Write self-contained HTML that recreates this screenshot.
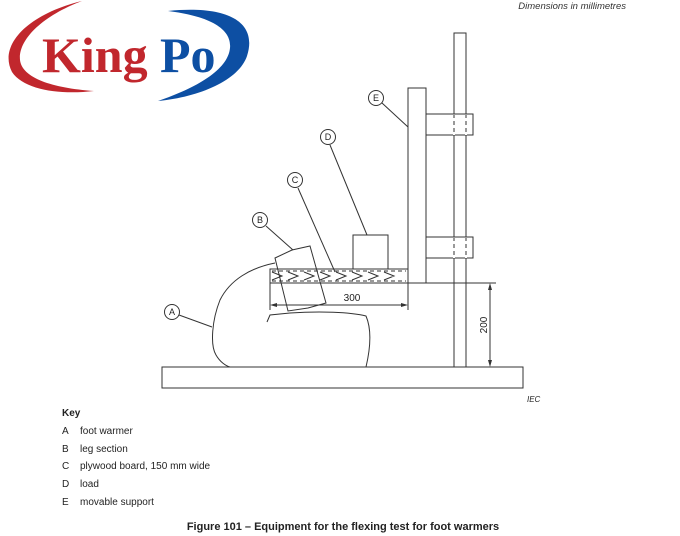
<!DOCTYPE html><html><head><style>body{margin:0;background:#fff}</style></head><body>
<svg width="680" height="536" viewBox="0 0 680 536" xmlns="http://www.w3.org/2000/svg" style="display:block">
<g font-family="Liberation Sans, sans-serif">
<text x="626" y="9" font-size="9.5" font-style="italic" text-anchor="end" fill="#333">Dimensions in millimetres</text>
<path d="M82 1 C28 14 -2 45 12 72 C24 90 60 95 94 91 C52 88 22 78 20 60 C18 40 42 16 82 1 Z" fill="#c1272d"/>
<path d="M168 11 C228 5 258 22 247 56 C239 80 200 97 158 101 C196 88 228 70 230 48 C232 28 208 16 168 11 Z" fill="#0d4fa3"/>
<text x="42" y="72" font-family="Liberation Serif, serif" font-size="50" font-weight="bold" fill="#c1272d">King</text>
<text x="160" y="72" font-family="Liberation Serif, serif" font-size="50" font-weight="bold" fill="#0d4fa3">Po</text>
</g>
<g fill="none" stroke="#333" stroke-width="1">
<rect x="162" y="367" width="361" height="21"/>
<rect x="454" y="33" width="12" height="334"/>
<rect x="408" y="88" width="18" height="195" fill="#fff"/>
<rect x="426" y="114" width="47" height="21"/>
<rect x="426" y="237" width="47" height="21"/>
<line x1="454" y1="114" x2="454" y2="135" stroke="#fff" stroke-width="2"/>
<line x1="466" y1="114" x2="466" y2="135" stroke="#fff" stroke-width="2"/>
<line x1="454" y1="237" x2="454" y2="258" stroke="#fff" stroke-width="2"/>
<line x1="466" y1="237" x2="466" y2="258" stroke="#fff" stroke-width="2"/>
<g stroke-dasharray="4,3"><line x1="454" y1="114" x2="454" y2="135"/><line x1="466" y1="114" x2="466" y2="135"/><line x1="454" y1="237" x2="454" y2="258"/><line x1="466" y1="237" x2="466" y2="258"/></g>
<rect x="353" y="235" width="35" height="34"/>
<path d="M408 269 H270 V283 H408"/>
<line x1="272" y1="271" x2="406" y2="271" stroke-dasharray="4,3"/>
<line x1="272" y1="281" x2="406" y2="281" stroke-dasharray="4,3"/>
<path d="M272 272 l10 4 l-10 4 M288 272 l10 4 l-10 4 M304 272 l10 4 l-10 4 M320 272 l10 4 l-10 4 M336 272 l10 4 l-10 4 M352 272 l10 4 l-10 4 M368 272 l10 4 l-10 4 M384 272 l10 4 l-10 4"/>
<path d="M275 258 L292 250 L310 246 L326 303 L308 308 L288 311 Z"/>
<path d="M275 263 C250 268 230 280 220 300 C212 320 210 345 216 355 C220 362 226 366 230 367"/>
<path d="M267 322 L270 315 L290 313 C320 311 350 312 366 316 C372 330 370 350 366 367"/>
<line x1="270" y1="283" x2="270" y2="310"/>
<line x1="408" y1="283" x2="408" y2="310"/>
<line x1="272" y1="305" x2="406" y2="305"/>
<line x1="426" y1="283" x2="496" y2="283"/>
<line x1="490" y1="285" x2="490" y2="365"/>
<g fill="#fff"><circle cx="376" cy="98" r="7.5"/><circle cx="328" cy="137" r="7.5"/><circle cx="295" cy="180" r="7.5"/><circle cx="260" cy="220" r="7.5"/><circle cx="172" cy="312" r="7.5"/></g>
<line x1="382" y1="103" x2="408" y2="127"/>
<line x1="330" y1="145" x2="367" y2="235"/>
<line x1="298" y1="188" x2="335" y2="272"/>
<line x1="266" y1="226" x2="293" y2="250"/>
<line x1="179" y1="315" x2="212" y2="327"/>
</g>
<g fill="#333"><path d="M270 305 l7 -2 v4z M408 305 l-7 -2 v4z M490 283 l-2 7 h4z M490 367 l-2 -7 h4z"/></g>
<g font-family="Liberation Sans, sans-serif" fill="#222">
<g font-size="9" text-anchor="middle"><text x="376" y="101">E</text><text x="328" y="140">D</text><text x="295" y="183">C</text><text x="260" y="223">B</text><text x="172" y="315">A</text></g>
<text x="352" y="301" font-size="10" text-anchor="middle">300</text>
<text transform="translate(487 325) rotate(-90)" font-size="10" text-anchor="middle">200</text>
<text x="527" y="402" font-size="8" font-style="italic">IEC</text>
<text x="62" y="416" font-size="10" font-weight="bold">Key</text>
<g font-size="10"><text x="62" y="434">A</text><text x="80" y="434">foot warmer</text>
<text x="62" y="452">B</text><text x="80" y="452">leg section</text>
<text x="62" y="469">C</text><text x="80" y="469">plywood board, 150 mm wide</text>
<text x="62" y="487">D</text><text x="80" y="487">load</text>
<text x="62" y="505">E</text><text x="80" y="505">movable support</text></g>
<text x="343" y="530" font-size="11" font-weight="bold" text-anchor="middle">Figure 101 – Equipment for the flexing test for foot warmers</text>
</g>
</svg></body></html>
